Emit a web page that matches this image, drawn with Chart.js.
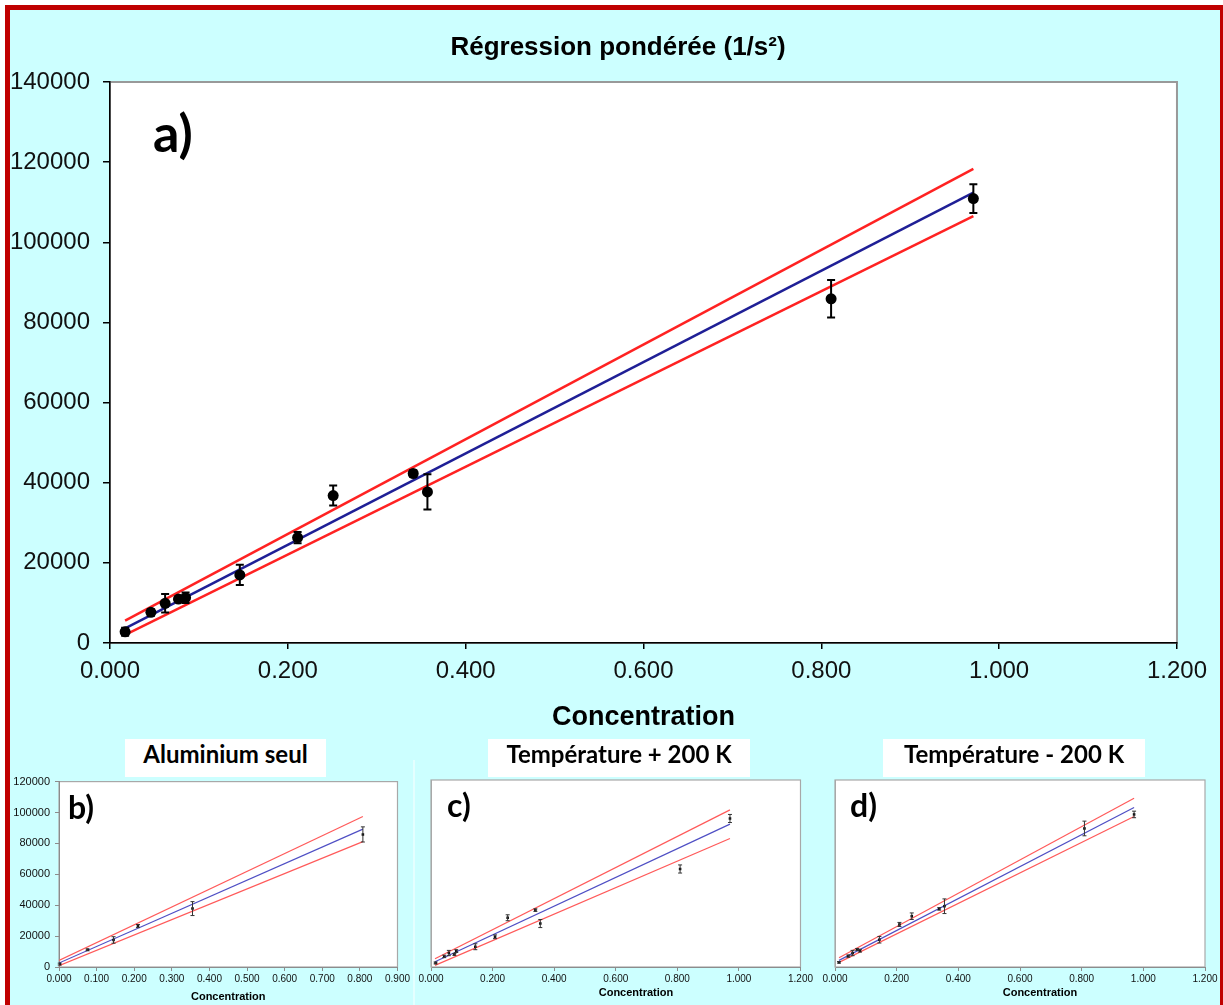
<!DOCTYPE html>
<html lang="fr">
<head>
<meta charset="utf-8">
<title>Régression pondérée (1/s²)</title>
<script src="https://cdn.jsdelivr.net/npm/chart.js"></script>
<style>
  html, body { margin: 0; padding: 0; }
  body { width: 1223px; height: 1005px; position: relative; overflow: hidden; background: #fff; }
  .frame { position: absolute; left: 5px; top: 5px; width: 1210px; height: 1100px; background: #ccffff;
           border-left: 5px solid #c00000; border-top: 5px solid #c00000; border-right: 5px solid #c00000; }
  .divider { position: absolute; left: 413px; top: 760px; width: 2px; height: 245px; background: #e4ffff; }
  canvas { position: absolute; }
  .title { position: absolute; left: 0; top: 31px; width: 1236px; text-align: center; line-height: 30px;
           font: bold 26px "Liberation Sans", Arial, sans-serif; color: #000; }
  .tag { position: absolute; font-family: Lato, sans-serif; font-weight: bold; line-height: 1; color: #000; }
  .cap { position: absolute; top: 739px; height: 38px; line-height: 38px; background: #fff; text-align: center;
         font: bold 24px Lato, sans-serif; color: #000; }
  .xname { position: absolute; top: 986px; width: 120px; text-align: center; line-height: 14px;
           font: bold 11px "Liberation Sans", Arial, sans-serif; color: #000; }
</style>
</head>
<body>
<div class="frame"></div>
<div class="divider"></div>

<canvas id="chartA" width="1205" height="725" style="left:10px; top:10px"></canvas>
<canvas id="chartB" width="402" height="235" style="left:10px; top:770px"></canvas>
<canvas id="chartC" width="400" height="235" style="left:415px; top:770px"></canvas>
<canvas id="chartD" width="405" height="235" style="left:818px; top:770px"></canvas>

<div class="title">Régression pondérée (1/s²)</div>
<div class="tag" style="left:153px; top:106px; font-size:52px">a)</div>
<div class="tag" style="left:68px; top:791px; font-size:32px">b)</div>
<div class="tag" style="left:447px; top:789px; font-size:32px">c)</div>
<div class="tag" style="left:850px; top:789px; font-size:32px">d)</div>
<div class="cap" style="left:125px; width:201px">Aluminium seul</div>
<div class="cap" style="left:488px; width:262px">Température + 200 K</div>
<div class="cap" style="left:883px; width:262px">Température - 200 K</div>
<div class="xname" style="left:576px">Concentration</div>
<div class="xname" style="left:980px">Concentration</div>

<script>
Chart.defaults.font.family = '"Liberation Sans", Arial, sans-serif';
Chart.defaults.color = '#111';

// a) weighted regression, all points
const concA  = [0.017, 0.046, 0.062, 0.077, 0.085, 0.146, 0.211, 0.251, 0.341, 0.357, 0.811, 0.971];
const valA   = [2800, 7650, 9900, 10950, 11300, 17000, 26300, 36800, 42300, 37700, 85900, 110900];
const errA   = [1000, 800, 2300, 500, 1300, 2500, 1400, 2500, 800, 4400, 4700, 3600];
const fitXA  = [0.017, 0.971];
const fitA   = [3660, 112400];
const upperA = [5560, 118300];
const lowerA = [2000, 106500];

// b) aluminium seul
const concB  = [0.002, 0.076, 0.145, 0.210, 0.355, 0.808];
const valB   = [1900, 11100, 17500, 26500, 37800, 85800];
const errB   = [600, 600, 2100, 1000, 4500, 4900];
const fitXB  = [0.0, 0.808];
const fitB   = [2560, 89260];
const upperB = [4270, 97400];
const lowerB = [850, 81150];

// c) température + 200 K
const concC  = [0.015, 0.043, 0.058, 0.076, 0.082, 0.144, 0.208, 0.249, 0.339, 0.355, 0.809, 0.971];
const valC   = [2600, 6800, 8950, 8100, 10200, 13000, 19400, 31600, 36500, 27900, 62900, 95300];
const errC   = [600, 800, 1700, 600, 900, 1900, 1200, 1900, 800, 2600, 2600, 2600];
const fitXC  = [0.013, 0.971];
const fitC   = [3400, 91700];
const upperC = [5300, 100850];
const lowerC = [1070, 82500];

// d) température - 200 K
const concD  = [0.013, 0.043, 0.057, 0.072, 0.081, 0.144, 0.209, 0.249, 0.338, 0.355, 0.809, 0.970];
const valD   = [3000, 7000, 8960, 11300, 10450, 17500, 27300, 32600, 37300, 39000, 88900, 97900];
const errD   = [500, 700, 1700, 600, 900, 2100, 1300, 2100, 800, 4700, 4700, 2100];
const fitXD  = [0.013, 0.970];
const fitD   = [4260, 102350];
const upperD = [5970, 108300];
const lowerD = [2985, 96600];

// tick values
const xTicksWide  = [0, 0.2, 0.4, 0.6, 0.8, 1.0, 1.2];
const xTicksB     = [0, 0.1, 0.2, 0.3, 0.4, 0.5, 0.6, 0.7, 0.8, 0.9];
const yTicksMain  = [0, 20000, 40000, 60000, 80000, 100000, 120000, 140000];
const yTicksSmall = [0, 20000, 40000, 60000, 80000, 100000, 120000];

// white plot box + grey frame, then error bars on top of the series
const panelPlugin = {
  id: 'panel',
  beforeDraw(chart, args, opts) {
    const { ctx, chartArea: a } = chart;
    ctx.save();
    ctx.fillStyle = '#fff';
    ctx.fillRect(a.left, a.top, a.width, a.height);
    ctx.strokeStyle = opts.frame;
    ctx.lineWidth = opts.frameWidth;
    ctx.strokeRect(a.left, a.top, a.width, a.height);
    ctx.restore();
  },
  afterDatasetsDraw(chart, args, opts) {
    const { ctx } = chart;
    const sx = chart.scales.x, sy = chart.scales.y;
    ctx.save();
    ctx.strokeStyle = opts.barColor;
    ctx.lineWidth = opts.barWidth;
    opts.conc.forEach((c, i) => {
      const px = sx.getPixelForValue(c);
      const top = sy.getPixelForValue(opts.val[i] + opts.err[i]);
      const bot = sy.getPixelForValue(opts.val[i] - opts.err[i]);
      ctx.beginPath();
      ctx.moveTo(px, top); ctx.lineTo(px, bot);
      ctx.moveTo(px - opts.cap, top); ctx.lineTo(px + opts.cap, top);
      ctx.moveTo(px - opts.cap, bot); ctx.lineTo(px + opts.cap, bot);
      ctx.stroke();
    });
    ctx.restore();
  }
};

function pairs(xs, ys) {
  return xs.map((x, i) => ({ x: x, y: ys[i] }));
}

function xScale(ticks, max, o) {
  return {
    type: 'linear', min: 0, max: max,
    afterBuildTicks: s => { s.ticks = ticks.map(v => ({ value: v })); },
    afterFit: s => { s.height = o.height; },
    ticks: { autoSkip: false, maxRotation: 0, font: { size: o.font }, color: '#111', padding: o.pad,
             callback: v => v.toFixed(3) },
    grid: { drawOnChartArea: false, drawTicks: true, tickLength: o.tick, color: o.axis, lineWidth: o.axisWidth },
    border: { display: true, color: o.axis, width: o.axisWidth },
    title: { display: o.title, text: 'Concentration', font: { size: o.titleSize, weight: 'bold' },
             color: '#000', padding: { top: 0, bottom: 1 } }
  };
}

function yScale(ticks, max, o) {
  return {
    type: 'linear', min: 0, max: max,
    afterBuildTicks: s => { s.ticks = ticks.map(v => ({ value: v })); },
    afterFit: s => { s.width = o.width; },
    ticks: { display: o.labels, font: { size: o.font }, color: '#111', padding: o.pad, callback: v => String(v) },
    grid: { drawOnChartArea: false, drawTicks: o.tick > 0, tickLength: o.tick, color: o.axis, lineWidth: o.axisWidth },
    border: { display: true, color: o.axis, width: o.axisWidth }
  };
}

function makeChart(id, d, look) {
  return new Chart(document.getElementById(id), {
    type: 'scatter',
    data: {
      datasets: [
        { data: pairs(d.conc, d.val), pointStyle: look.pointStyle, pointRadius: look.pointRadius,
          backgroundColor: '#000', borderColor: '#000', borderWidth: 0, order: 0 },
        { data: pairs(d.fitX, d.fit), showLine: true, borderColor: look.blue, borderWidth: look.lineWidth, pointRadius: 0, order: 1 },
        { data: pairs(d.fitX, d.upper), showLine: true, borderColor: look.red, borderWidth: look.lineWidth, pointRadius: 0, order: 1 },
        { data: pairs(d.fitX, d.lower), showLine: true, borderColor: look.red, borderWidth: look.lineWidth, pointRadius: 0, order: 1 }
      ]
    },
    options: {
      responsive: false,
      animation: false,
      events: [],
      layout: { padding: look.padding },
      plugins: {
        legend: { display: false },
        tooltip: { enabled: false },
        panel: { conc: d.conc, val: d.val, err: d.err, frame: look.frame, frameWidth: look.frameWidth,
                 barColor: look.barColor, barWidth: look.barWidth, cap: look.cap }
      },
      scales: { x: look.x, y: look.y }
    },
    plugins: [panelPlugin]
  });
}

const bigLook = {
  pointStyle: 'circle', pointRadius: 5.5, lineWidth: 2.5, blue: '#1f1f96', red: '#ff2222',
  frame: '#999999', frameWidth: 2, barColor: '#000', barWidth: 2, cap: 4,
  padding: { top: 72, right: 34, left: 0, bottom: 0 },
  x: xScale(xTicksWide, 1.2, { height: 92, font: 24, pad: 8, tick: 6, axis: '#000', axisWidth: 1.5, title: true, titleSize: 27 }),
  y: yScale(yTicksMain, 140000, { width: 100, labels: true, font: 24, pad: 13, tick: 7, axis: '#000', axisWidth: 1.5 })
};

function smallLook(padRight, xTicks, xMax, yOpts) {
  return {
    pointStyle: 'rect', pointRadius: 1.8, lineWidth: 1.2, blue: '#4f4fc4', red: '#ff5a5a',
    frame: '#a8a8a8', frameWidth: 1.2, barColor: '#333', barWidth: 1, cap: 2,
    padding: { top: 10, right: padRight, left: 0, bottom: 0 },
    x: xScale(xTicks, xMax, { height: 38, font: 10, pad: 2, tick: 4, axis: '#8c8c8c', axisWidth: 1, title: yOpts.labels, titleSize: 11 }),
    y: yScale(yTicksSmall, 120000, yOpts)
  };
}

makeChart('chartA', { conc: concA, val: valA, err: errA, fitX: fitXA, fit: fitA, upper: upperA, lower: lowerA }, bigLook);

makeChart('chartB', { conc: concB, val: valB, err: errB, fitX: fitXB, fit: fitB, upper: upperB, lower: lowerB },
  smallLook(13, xTicksB, 0.9, { width: 49, labels: true, font: 11, pad: 5, tick: 4, axis: '#8c8c8c', axisWidth: 1 }));

makeChart('chartC', { conc: concC, val: valC, err: errC, fitX: fitXC, fit: fitC, upper: upperC, lower: lowerC },
  smallLook(13, xTicksWide, 1.2, { width: 16, labels: false, font: 11, pad: 0, tick: 0, axis: '#a8a8a8', axisWidth: 1 }));

makeChart('chartD', { conc: concD, val: valD, err: errD, fitX: fitXD, fit: fitD, upper: upperD, lower: lowerD },
  smallLook(18, xTicksWide, 1.2, { width: 17, labels: false, font: 11, pad: 0, tick: 0, axis: '#a8a8a8', axisWidth: 1 }));
</script>
</body>
</html>
